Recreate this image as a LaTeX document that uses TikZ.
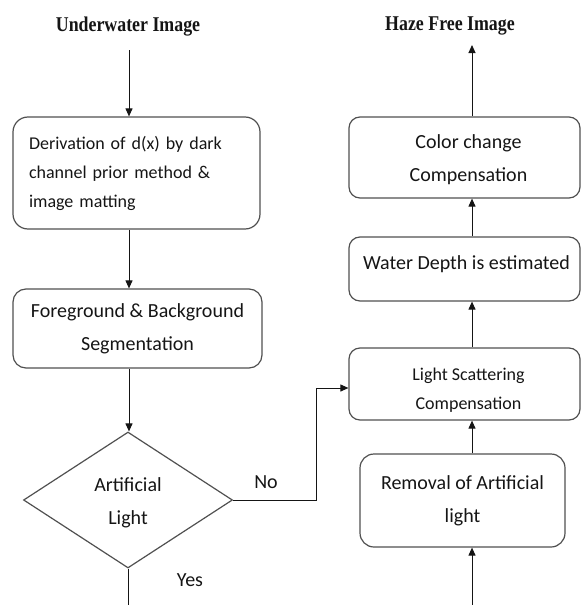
\documentclass[tikz,border=0pt]{standalone}
\usepackage{fontspec}
\setmainfont{Carlito}
\newfontfamily\titlefont[FakeStretch=0.85]{Liberation Serif}
\usetikzlibrary{shapes.geometric,arrows.meta}
\definecolor{edge}{HTML}{505050}
\definecolor{ink}{HTML}{151515}
\begin{document}
\begin{tikzpicture}[x=1pt,y=-1pt,
  proc/.style={draw=edge, line width=1.2pt, rounded corners=11pt, inner sep=0pt,
               align=center, text=ink, font=\fontsize{20}{33}\selectfont},
  decision/.style={draw=edge, line width=1.2pt, diamond, inner sep=0pt,
               align=center, text=ink, font=\fontsize{20}{33}\selectfont},
  flow/.style={draw=ink, line width=1pt, -{Triangle[length=8pt,width=7pt]}},
  plain/.style={draw=ink, line width=1pt},
  heading/.style={font=\titlefont\bfseries\fontsize{21}{24}\selectfont, text=ink, anchor=base},
  lbl/.style={font=\fontsize{20}{24}\selectfont, text=ink}]
\useasboundingbox (0,0) rectangle (581,605);

% headings
\node[heading] (src) at (128,31) {Underwater Image};
\node[heading] (dst) at (450,30) {Haze Free Image};

% left column
\node[proc, rounded corners=15pt, minimum width=247pt, minimum height=112pt,
      text width=215pt, align=left, font=\fontsize{18}{29}\selectfont]
      (dcp) at (136.5,173) {Derivation of d(x) by dark\\channel prior method \&\\image matting};
\node[proc, rounded corners=13pt, minimum width=249pt, minimum height=79pt]
      (seg) at (137.5,328.5) {Foreground \& Background\\Segmentation};
\node[decision, minimum width=209pt, minimum height=136pt, text height=52pt]
      (dec) at (128,500) {Artificial\\Light};

% right column
\node[proc, minimum width=231pt, minimum height=81pt, text height=52pt]
      (color) at (464.5,157.5) {\hspace*{8pt}Color change\\\hspace*{8pt}Compensation};
\node[proc, minimum width=231pt, minimum height=64pt, text height=0pt, text depth=0pt]
      (water) at (464.5,269) {\hspace*{4pt}Water Depth is estimated};
\node[proc, minimum width=231pt, minimum height=72pt, text height=53pt,
      font=\fontsize{18}{29}\selectfont]
      (scat) at (464.5,384) {\hspace*{8pt}Light Scattering\\\hspace*{8pt}Compensation};
\node[proc, rounded corners=14pt, minimum width=205pt, minimum height=93pt]
      (rem) at (462.5,500.5) {Removal of Artificial\\light};

% branch labels
\node[lbl] (no) at (266,482) {No};
\node[lbl] (yes) at (190,580) {Yes};

% connector anchors
\coordinate (inL) at (129,50);
\coordinate (outL) at (128,605);
\coordinate (bend) at (316,388);
\coordinate (inR) at (472,605);
\coordinate (outR) at (472,45);

% left connectors
\draw[flow] (inL) -- (inL |- dcp.north);
\draw[flow] (dcp.south -| inL) -- (seg.north -| inL);
\draw[flow] (seg.south -| inL) -- (dec.north -| inL);
\draw[plain] (dec.south) -- (outL);
\draw[flow] (dec.east) -- (dec.east -| bend) -- (bend) -- (bend -| scat.west);

% right connectors
\draw[flow] (inR) -- (inR |- rem.south);
\draw[flow] (rem.north -| inR) -- (scat.south -| inR);
\draw[flow] (scat.north -| inR) -- (water.south -| inR);
\draw[flow] (water.north -| inR) -- (color.south -| inR);
\draw[flow] (color.north -| inR) -- (outR);
\end{tikzpicture}
\end{document}
